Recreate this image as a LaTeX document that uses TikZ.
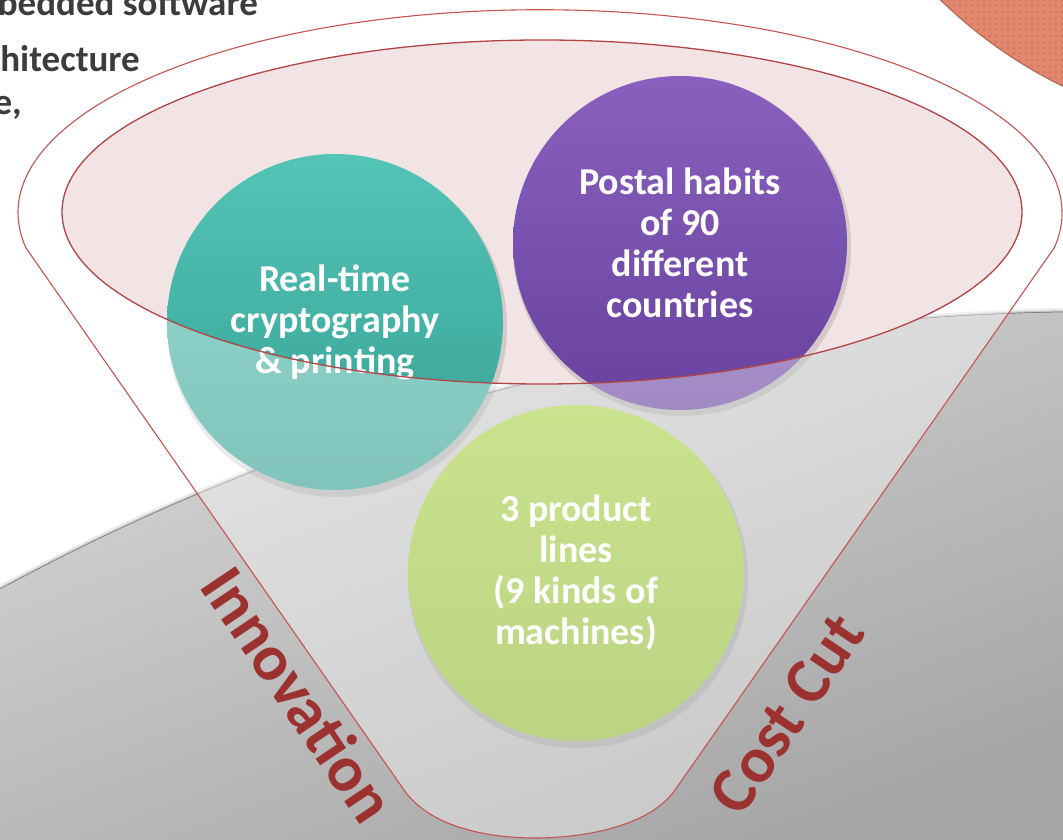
\documentclass[tikz,border=0pt]{standalone}
\usepackage{fontspec}
\setmainfont{Carlito}
\usetikzlibrary{patterns.meta}
\definecolor{orangebg}{RGB}{226,134,110}
\definecolor{orangedot}{RGB}{192,100,78}
\definecolor{orangeedge}{RGB}{185,105,90}
\definecolor{grayA}{RGB}{214,214,214}
\definecolor{grayB}{RGB}{166,166,166}
\definecolor{pinkfill}{RGB}{242,228,229}
\definecolor{funnelline}{RGB}{196,84,80}
\definecolor{ellipseline}{RGB}{178,68,68}
\definecolor{tealA}{RGB}{84,196,182}
\definecolor{tealB}{RGB}{52,160,146}
\definecolor{purpleA}{RGB}{138,96,190}
\definecolor{purpleB}{RGB}{104,66,158}
\definecolor{greenA}{RGB}{170,210,72}
\definecolor{greenB}{RGB}{146,186,56}
\definecolor{redlabel}{RGB}{155,50,48}
\definecolor{darktext}{RGB}{60,60,60}
\tikzset{
  ball/.style={circle, minimum size=336pt, inner sep=0pt, text=white,
    font=\fontsize{38}{41}\selectfont\bfseries, align=center},
  sidelabel/.style={text=redlabel, font=\fontsize{65}{65}\selectfont\bfseries, inner sep=0pt},
  toptext/.style={anchor=base east, text=darktext, font=\fontsize{37}{37}\selectfont\bfseries, inner sep=0pt}
}
\begin{document}
\begin{tikzpicture}[x=1pt,y=1pt]
\useasboundingbox (0,0) rectangle (1063,840);
\clip (0,0) rectangle (1063,840);
\fill[white] (0,0) rectangle (1063,840);
% orange corner
\fill[orangebg] (1270,1178) circle[radius=472pt];
\fill[pattern={Dots[distance=6pt,radius=0.9pt]}, pattern color=orangedot] (1270,1178) circle[radius=472pt];
\draw[orangeedge, line width=1.2pt] (1270,1178) circle[radius=472pt];
% gray area
\draw[black!8, line width=8pt] (1100,-1787) circle[radius=2315pt];
\draw[black!22, line width=4pt] (1100,-1787) circle[radius=2315pt];
\draw[black!55, line width=1.4pt] (1100,-1787) circle[radius=2315pt];
\begin{scope}
\clip (1100,-1787) circle[radius=2315pt];
\shade[top color=grayA, bottom color=grayB, shading angle=20] (0,0) rectangle (1063,530);
\end{scope}
% funnel mouth
\fill[pinkfill] (542,628) ellipse[x radius=480pt, y radius=172pt];
% circles
\fill[black, opacity=.12] (337,513) circle[radius=170pt];
\fill[black, opacity=.12] (682,593) circle[radius=169pt];
\fill[black, opacity=.12] (578,262) circle[radius=170pt];
\node[ball, top color=tealA, bottom color=tealB] (teal) at (335,518) {Real-time\\cryptography\\\& printing};
\node[ball, minimum size=334pt, top color=purpleA, bottom color=purpleB] (purple) at (680,597) {Postal habits\\of 90\\different\\countries};
\node[ball, top color=greenA, bottom color=greenB] (green) at (576,267) {3 product\\lines\\(9 kinds of\\machines)};
% translucent funnel body
\fill[white, opacity=.38, even odd rule]
  (26,592) arc[start angle=190, end angle=-10, x radius=522pt, y radius=203pt]
  -- (675,50) .. controls (650,14) and (585,2) .. (535,2)
  .. controls (485,2) and (429,14) .. (404,50) -- cycle
  (542,628) ellipse[x radius=480pt, y radius=172pt];
% outlines
\draw[funnelline, line width=1.1pt]
  (26,592) arc[start angle=190, end angle=-10, x radius=522pt, y radius=203pt]
  -- (675,50) .. controls (650,14) and (585,2) .. (535,2)
  .. controls (485,2) and (429,14) .. (404,50) -- cycle;
\draw[ellipseline, line width=1.3pt] (542,628) ellipse[x radius=480pt, y radius=172pt];
% side labels
\node[sidelabel, rotate=-56] (innov) at (299,146) {Innovation};
\node[sidelabel, rotate=56] (cost) at (787,126) {Cost Cut};
% top-left text fragments
\node[toptext] (t1) at (258,824) {bedded software};
\node[toptext] (t2) at (140,768) {hitecture};
\node[toptext] (t3) at (22,725) {e,};
\end{tikzpicture}
\end{document}
